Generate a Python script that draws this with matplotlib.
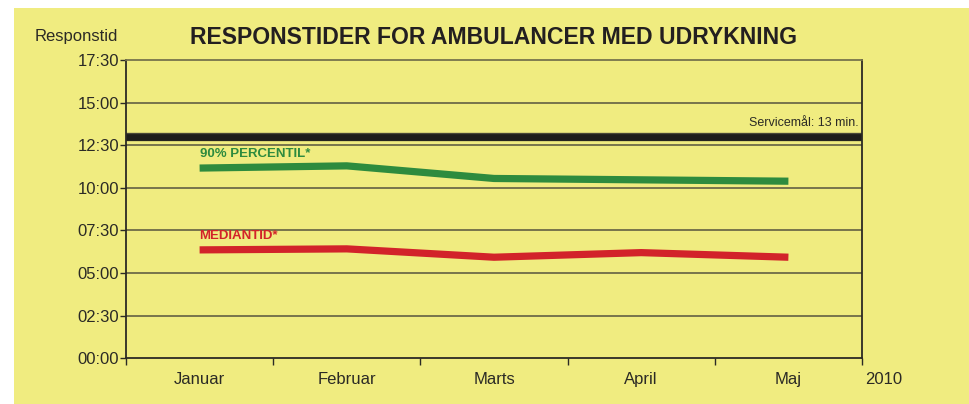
import matplotlib
matplotlib.use('Agg')
import matplotlib.pyplot as plt
from matplotlib.ticker import FuncFormatter, FixedLocator
from matplotlib.patches import Rectangle

plt.rcParams['font.family'] = ['Liberation Sans', 'DejaVu Sans']

# data (minutes)
months = ["Januar", "Februar", "Marts", "April", "Maj"]
percentil_90 = [11.16, 11.29, 10.55, 10.47, 10.39]
mediantid = [6.36, 6.42, 5.93, 6.20, 5.93]
service_goal = 13
year_label = "2010"

YELLOW = '#f0ec80'
GREEN = '#2e8b3e'
RED = '#d2232a'
DARK = '#2b2a25'
GRID = '#77744c'

fig = plt.figure(figsize=(9.69, 4.04), dpi=100)
fig.patch.set_facecolor('white')
fig.patches.append(Rectangle((14 / 969, 0), 1 - 14 / 969, 396 / 404,
                             transform=fig.transFigure, facecolor=YELLOW,
                             edgecolor='none', zorder=-10))

ax = fig.add_axes([126 / 969, 1 - 358.3 / 404, (862 - 126) / 969, (358.3 - 60) / 404])
ax.set_facecolor('none')

xs = [i + 0.5 for i in range(len(months))]
ax.set_xlim(0, len(months))
ax.set_ylim(0, 17.5)

# grid
for v in [2.5, 5, 7.5, 10, 12.5, 15]:
    ax.axhline(v, color=GRID, lw=1.4, zorder=1)

# service goal line (thin dark edge + thick black core)
ax.axhline(service_goal, color='#4a4838', lw=6.0, zorder=2)
ax.axhline(service_goal, color='#1e1d1b', lw=4.8, zorder=2)
ax.text(0.995, service_goal + 0.45, "Servicemål: 13 min.", transform=ax.get_yaxis_transform(),
        ha='right', va='bottom', fontsize=9, color=DARK)

ax.plot(xs, percentil_90, color=GREEN, lw=5.2, solid_capstyle='butt', zorder=3)
ax.plot(xs, mediantid, color=RED, lw=5.2, solid_capstyle='butt', zorder=3)

ax.text(xs[0], percentil_90[0] + 0.45, "90% PERCENTIL*", color=GREEN, fontsize=9.5,
        fontweight='bold', ha='left', va='bottom')
ax.text(xs[0], mediantid[0] + 0.45, "MEDIANTID*", color=RED, fontsize=9.5,
        fontweight='bold', ha='left', va='bottom')

# axes styling
for s in ax.spines.values():
    s.set_color(DARK)
    s.set_linewidth(1.3)
ax.spines['top'].set_color(GRID)

ax.yaxis.set_major_locator(FixedLocator([0, 2.5, 5, 7.5, 10, 12.5, 15, 17.5]))
ax.yaxis.set_major_formatter(FuncFormatter(lambda v, p: "%02d:%02d" % (int(v), round((v % 1) * 60))))
ax.tick_params(axis='y', length=4, width=1, color=DARK, labelsize=12, labelcolor=DARK, pad=1)

ax.xaxis.set_major_locator(FixedLocator(range(len(months) + 1)))
ax.xaxis.set_minor_locator(FixedLocator(xs))
ax.set_xticklabels([])
ax.set_xticklabels(months, minor=True)
ax.tick_params(axis='x', which='major', length=5, width=1, color=DARK)
ax.tick_params(axis='x', which='minor', length=0, labelsize=12, labelcolor=DARK, pad=10)

ax.text(len(months) + 0.02, -0.8, year_label, ha='left', va='top', fontsize=12, color=DARK)

fig.text(118 / 969, 1 - 37 / 404, "Responstid", ha='right', va='center', fontsize=12, color=DARK)
fig.text(494 / 969, 1 - 38 / 404, "RESPONSTIDER FOR AMBULANCER MED UDRYKNING", ha='center',
         va='center', fontsize=16.6, fontweight='bold', color='#231f20')

plt.savefig('out.png', dpi=100, facecolor=fig.get_facecolor())
plt.close()
